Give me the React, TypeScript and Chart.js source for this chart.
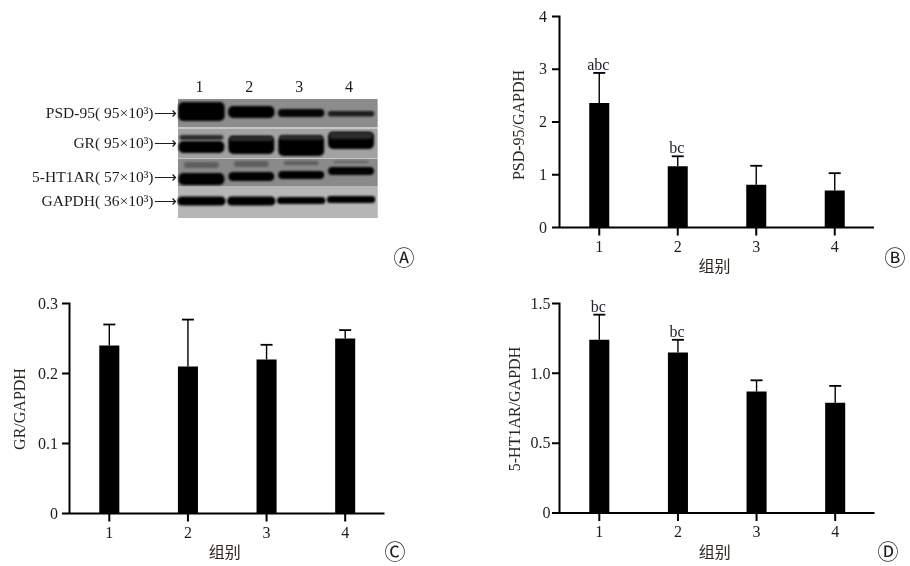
import React, { useEffect, useRef } from "react";
import { Chart, registerables } from "chart.js";

Chart.register(...registerables);

const SERIF = '"Liberation Serif", serif';
const CJK = '"Noto Sans CJK SC", sans-serif';
const INK = "#1d1d1d";
const TITLE_INK = "#2c2620";

const groups = ["1", "2", "3", "4"];

const psdMeans = [2.36, 1.16, 0.81, 0.7];
const psdErrTops = [2.93, 1.35, 1.17, 1.03];
const psdMarks = ["abc", "bc", "", ""];
const psdTicks = [0, 1, 2, 3, 4];

const grMeans = [0.24, 0.21, 0.22, 0.25];
const grErrTops = [0.27, 0.277, 0.241, 0.262];
const grMarks = ["", "", "", ""];
const grTicks = [0, 0.1, 0.2, 0.3];

const htMeans = [1.24, 1.15, 0.87, 0.79];
const htErrTops = [1.42, 1.24, 0.95, 0.91];
const htMarks = ["bc", "bc", "", ""];
const htTicks = [0, 0.5, 1.0, 1.5];

// Western blot panel: band extents per lane, in gel-distance units
const blotRowLabels = ["PSD-95( 95×10³)⟶", "GR( 95×10³)⟶", "5-HT1AR( 57×10³)⟶", "GAPDH( 36×10³)⟶"];
const blotRowCentres = [15, 45, 79, 103];
const blotStrips: [number, number, string][] = [
  [0, 28, "#8c8c8c"],
  [30, 59, "#a2a2a2"],
  [60, 87, "#8a8a8a"],
  [87, 119, "#b6b6b6"],
];
const psdBand: [number, number][] = [[3, 22], [7, 19], [10, 18], [12, 17.5]];
const grBand: [number, number][] = [[42, 54], [37, 55], [37, 57], [33, 50]];
const grFaint: [number, number][] = [[36, 41], [37, 42], [36, 41], [33, 40]];
const htFaint: [number, number][] = [[63, 69], [62, 68], [62, 66], [62, 64]];
const htBand: [number, number][] = [[74, 86], [73, 82], [72, 80], [68, 76]];
const gapdhBand: [number, number][] = [[97.5, 106.5], [97.5, 106.5], [98, 105], [97, 104]];

type Panel = {
  left: number; top: number; width: number; height: number;
  means: number[]; tops: number[]; marks: string[]; ticks: number[];
  max: number; yTitle: string; fmt: (v: number) => string; letter: string;
};

const panels: Panel[] = [
  { left: 500, top: 0, width: 410, height: 285, means: psdMeans, tops: psdErrTops, marks: psdMarks, ticks: psdTicks, max: 4, yTitle: "PSD-95/GAPDH", fmt: (v) => String(v), letter: "Ⓑ" },
  { left: 0, top: 290, width: 410, height: 276, means: grMeans, tops: grErrTops, marks: grMarks, ticks: grTicks, max: 0.3, yTitle: "GR/GAPDH", fmt: (v) => (v === 0 ? "0" : v.toFixed(1)), letter: "Ⓒ" },
  { left: 500, top: 290, width: 410, height: 276, means: htMeans, tops: htErrTops, marks: htMarks, ticks: htTicks, max: 1.5, yTitle: "5-HT1AR/GAPDH", fmt: (v) => (v === 0 ? "0" : v.toFixed(1)), letter: "Ⓓ" },
];

const plotBoxes = [
  { l: 60, t: 16.5, r: 374, b: 227.5, lx: 395, ly: 257, tl: 13, tx: 20, ty: 125 },
  { l: 70, t: 13.5, r: 384.5, b: 223.5, lx: 395, ly: 261, tl: 12, tx: 21, ty: 119 },
  { l: 60, t: 13.5, r: 374.5, b: 223, lx: 388, ly: 261, tl: 9.5, tx: 16, ty: 119 },
];

function errorPlugin(p: Panel, lx: number, ly: number) {
  return {
    id: "errs",
    afterDatasetsDraw(chart: any) {
      const { ctx, scales } = chart;
      const meta = chart.getDatasetMeta(0);
      ctx.save();
      ctx.strokeStyle = "#000";
      p.means.forEach((m, i) => {
        const x = meta.data[i].x;
        const yTop = scales.y.getPixelForValue(p.tops[i]);
        const yBar = scales.y.getPixelForValue(m);
        ctx.lineWidth = 1.4;
        ctx.beginPath();
        ctx.moveTo(x, yBar);
        ctx.lineTo(x, yTop);
        ctx.stroke();
        ctx.lineWidth = 1.8;
        ctx.beginPath();
        ctx.moveTo(x - 6, yTop);
        ctx.lineTo(x + 6, yTop);
        ctx.stroke();
        if (p.marks[i]) {
          ctx.fillStyle = "#222233";
          ctx.font = `16px ${SERIF}`;
          ctx.textAlign = "center";
          ctx.textBaseline = "bottom";
          ctx.fillText(p.marks[i], x - 1, yTop + 1);
        }
      });
      ctx.fillStyle = INK;
      ctx.font = `21px ${CJK}`;
      ctx.textAlign = "center";
      ctx.textBaseline = "middle";
      ctx.fillText(p.letter, lx, ly);
      ctx.restore();
    },
  };
}

function BarPanel({ p, box }: { p: Panel; box: (typeof plotBoxes)[number] }) {
  const ref = useRef<HTMLCanvasElement>(null);
  useEffect(() => {
    const chart = new Chart(ref.current!, {
      type: "bar",
      data: {
        labels: groups,
        datasets: [{ data: p.means, backgroundColor: "#000", barPercentage: 0.255, categoryPercentage: 1 }],
      },
      options: {
        responsive: false,
        animation: false,
        layout: { padding: { left: box.l, top: box.t, right: p.width - box.r, bottom: p.height - box.b } },
        plugins: { legend: { display: false }, tooltip: { enabled: false } },
        scales: {
          x: {
            afterFit: (s: any) => { s.height = 0; },
            grid: { display: false },
            border: { display: false },
            ticks: { display: false },
          },
          y: {
            min: 0,
            max: p.max,
            afterFit: (s: any) => { s.width = 0; },
            afterBuildTicks: (s: any) => { s.ticks = p.ticks.map((value) => ({ value })); },
            grid: { display: false },
            border: { display: false },
            ticks: { display: false },
          },
        },
      },
      plugins: [
        errorPlugin(p, box.lx, box.ly),
        {
          id: "axes",
          afterDraw(chart: any) {
            const { ctx, chartArea: a, scales } = chart;
            ctx.save();
            ctx.strokeStyle = "#000";
            ctx.lineWidth = 2;
            ctx.beginPath();
            ctx.moveTo(a.left - 0.5, a.top - 1);
            ctx.lineTo(a.left - 0.5, a.bottom + 1);
            ctx.moveTo(a.left - 0.5, a.bottom);
            ctx.lineTo(a.right, a.bottom);
            p.ticks.forEach((v) => {
              const y = scales.y.getPixelForValue(v);
              ctx.moveTo(a.left - 8, y);
              ctx.lineTo(a.left, y);
            });
            groups.forEach((_, i) => {
              const x = scales.x.getPixelForTick(i);
              ctx.moveTo(x, a.bottom);
              ctx.lineTo(x, a.bottom + 8);
            });
            ctx.stroke();
            ctx.fillStyle = INK;
            ctx.font = `16px ${SERIF}`;
            ctx.textBaseline = "middle";
            ctx.textAlign = "right";
            p.ticks.forEach((v) => ctx.fillText(p.fmt(v), a.left - box.tl, scales.y.getPixelForValue(v) + 1));
            ctx.textAlign = "center";
            groups.forEach((g, i) => ctx.fillText(g, scales.x.getPixelForTick(i), a.bottom + 20));
            ctx.font = `16px ${CJK}`;
            ctx.fillStyle = TITLE_INK;
            ctx.fillText("组别", (a.left + a.right) / 2 - 2.5, a.bottom + 38.5);
            ctx.font = `16px ${SERIF}`;
            ctx.translate(box.tx, box.ty);
            ctx.rotate(-Math.PI / 2);
            ctx.fillText(p.yTitle, 0, 0);
            ctx.restore();
          },
        },
      ],
    } as any);
    return () => chart.destroy();
  }, []);
  return (
    <canvas
      ref={ref}
      width={p.width}
      height={p.height}
      style={{ position: "absolute", left: p.left, top: p.top, width: p.width, height: p.height }}
    />
  );
}

function BlotPanel() {
  const ref = useRef<HTMLCanvasElement>(null);
  useEffect(() => {
    const band = (data: [number, number][], color: string | string[], pct: number) => ({
      data,
      backgroundColor: color,
      barPercentage: pct,
      categoryPercentage: 1,
      borderRadius: 5,
      borderSkipped: false,
      grouped: false,
    });
    const chart = new Chart(ref.current!, {
      type: "bar",
      data: {
        labels: groups,
        datasets: [
          band(psdBand, ["#000", "#000", "#050505", "#1c1c1c"], 0.93),
          band(grFaint, "#2c2c2c", 0.88),
          band(grBand, "#000", 0.92),
          band(htFaint, "#5e5e5e", 0.7),
          band(htBand, "#000", 0.92),
          band(gapdhBand, "#000", 0.97),
        ],
      },
      options: {
        responsive: false,
        animation: false,
        layout: { padding: { left: 0, top: 0, right: 54, bottom: 52 } },
        plugins: { legend: { display: false }, tooltip: { enabled: false } },
        scales: {
          x: {
            position: "top",
            afterFit: (s: any) => { s.height = 29; },
            grid: { display: false, drawTicks: false },
            border: { display: false },
            ticks: { color: INK, font: { family: SERIF, size: 16 }, padding: 2, maxRotation: 0, labelOffset: -2 },
          },
          y: {
            reverse: true,
            min: 0,
            max: 119,
            afterFit: (s: any) => { s.width = 176.5; },
            afterBuildTicks: (s: any) => { s.ticks = blotRowCentres.map((value) => ({ value })); },
            grid: { display: false, drawTicks: false },
            border: { display: false },
            ticks: {
              autoSkip: false,
              padding: 0,
              color: INK,
              font: { family: SERIF, size: 15.5 },
              callback: (_: any, i: number) => blotRowLabels[i],
            },
          },
        },
      },
      plugins: [
        {
          id: "gel",
          beforeDatasetsDraw(chart: any) {
            const { ctx, chartArea: a, scales } = chart;
            ctx.save();
            ctx.fillStyle = "#c6c6c6";
            ctx.fillRect(a.left + 1.5, a.top, a.right - a.left, a.bottom - a.top);
            blotStrips.forEach(([from, to, color]) => {
              const y0 = scales.y.getPixelForValue(from);
              const y1 = scales.y.getPixelForValue(to);
              ctx.fillStyle = color;
              ctx.fillRect(a.left + 1.5, y0, a.right - a.left, y1 - y0);
            });
            ctx.restore();
            ctx.filter = "blur(1.3px)";
          },
          afterDatasetsDraw(chart: any) {
            const { ctx } = chart;
            ctx.filter = "none";
            ctx.save();
            ctx.fillStyle = INK;
            ctx.font = `21px ${CJK}`;
            ctx.textAlign = "center";
            ctx.textBaseline = "middle";
            ctx.fillText("Ⓐ", 404, 187);
            ctx.restore();
          },
        },
      ],
    } as any);
    return () => chart.destroy();
  }, []);
  return (
    <canvas
      ref={ref}
      width={430}
      height={200}
      style={{ position: "absolute", left: 0, top: 70, width: 430, height: 200 }}
    />
  );
}

export default function App() {
  return (
    <div style={{ position: "absolute", left: 0, top: 0, width: 910, height: 566, background: "#fff", overflow: "hidden" }}>
      <BlotPanel />
      {panels.map((p, i) => (
        <BarPanel key={p.yTitle} p={p} box={plotBoxes[i]} />
      ))}
    </div>
  );
}
